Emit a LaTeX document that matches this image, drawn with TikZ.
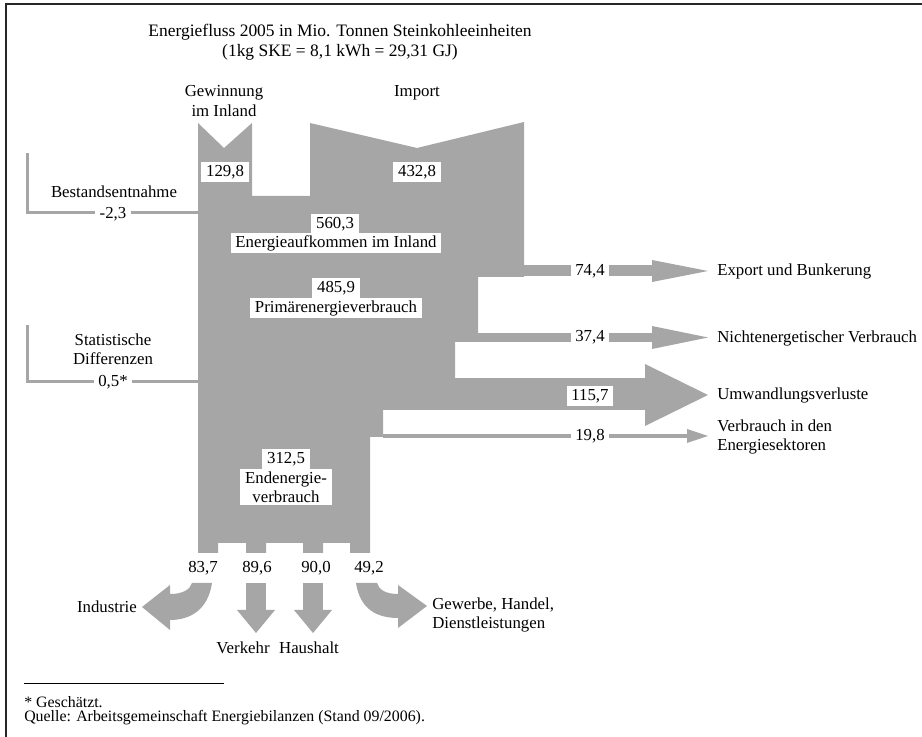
\documentclass[tikz,border=0pt]{standalone}
\usepackage{fontspec}
\setmainfont{Liberation Serif}
\usepackage{xcolor}
\usepackage{tikz}
\usetikzlibrary{positioning, calc}
\definecolor{flowgray}{RGB}{166,166,166}

\begin{document}
\begin{tikzpicture}[
        x=0.75pt, y=-0.75pt,
        flow/.style={fill=flowgray, draw=none},
        txt/.style={font=\fontsize{12.6}{14.5}\selectfont, inner sep=0pt, align=center},
        val/.style={txt, fill=white, inner xsep=3.5pt, inner ysep=2pt},
        feed/.style={draw=flowgray, line width=2.25pt},
        note/.style={font=\fontsize{11.9}{14}\selectfont, inner sep=0pt, anchor=west}
    ]
        \useasboundingbox (0,0) rectangle (922,737);
        % 边框
        \draw[line width=1.2pt, black!85] (6,737) -- (6,4) -- (922,4);

        % 标题
        \node[txt, font=\fontsize{13.1}{15}\selectfont] (title) at (340,42) {Energiefluss 2005 in Mio. Tonnen Steinkohleeinheiten\\(1kg SKE = 8,1 kWh = 29,31 GJ)};

        % 主体
        \fill[flow] (198,123) -- (224,148) -- (252,123) -- (252,196) -- (310,196) -- (310,123)
            -- (417,148) -- (524,122) -- (524,277) -- (478,277) -- (478,342) -- (455,342)
            -- (455,410) -- (383,410) -- (383,437) -- (370,437) -- (370,553) -- (350,553)
            -- (350,543) -- (323,543) -- (323,553) -- (303,553) -- (303,543) -- (266,543)
            -- (266,553) -- (246,553) -- (246,543) -- (218,543) -- (218,553) -- (198,553) -- cycle;

        % 输入
        \node[txt] (domestic) at (224,101) {Gewinnung\\im Inland};
        \node[txt] (import) at (417,93) {Import};
        \node[val] (domesticval) at (225,172) {129,8};
        \node[val] (importval) at (417,172) {432,8};

        \draw[feed] (27,153) -- (27,213) -- (198,213);
        \node[txt] (stock) at (114,192) {Bestandsentnahme};
        \node[val] (stockval) at (113,214) {-2,3};
        \draw[feed] (27,325) -- (27,382) -- (198,382);
        \node[txt] (statdiff) at (113,349) {Statistische\\Differenzen};
        \node[val] (statdiffval) at (113,382) {0,5*};

        % 主体标签
        \node[val] (supplyval) at (335,224) {560,3};
        \node[val] (supply) at (336,243) {Energieaufkommen im Inland};
        \node[val] (primaryval) at (336,288) {485,9};
        \node[val] (primary) at (336,308) {Primärenergieverbrauch};
        \node[val] (finalval) at (286,459) {312,5};
        \node[val] (final) at (286,487) {Endenergie-\\verbrauch};

        % 输出 (右)
        \fill[flow] (524,265) rectangle (652,276);
        \fill[flow] (652,260) -- (708,271) -- (652,282) -- cycle;
        \fill[flow] (478,333) rectangle (652,342);
        \fill[flow] (652,326) -- (708,337.5) -- (652,349) -- cycle;
        \fill[flow] (455,378) rectangle (645,410);
        \fill[flow] (645,364) -- (708,395) -- (645,426) -- cycle;
        \fill[flow] (383,434) rectangle (687,438);
        \fill[flow] (687,429) -- (708,436) -- (687,443) -- cycle;

        \node[val] (exportval) at (590,271) {74,4};
        \node[val] (nonenergyval) at (590,337.5) {37,4};
        \node[val] (conversionval) at (590,396) {115,7};
        \node[val] (sectorsval) at (590,436) {19,8};

        \node[txt, anchor=west] (export) at (717,271) {Export und Bunkerung};
        \node[txt, anchor=west] (nonenergy) at (717,338) {Nichtenergetischer Verbrauch};
        \node[txt, anchor=west] (conversion) at (717,395) {Umwandlungsverluste};
        \node[txt, anchor=west, align=left] (sectors) at (717,437) {Verbrauch in den\\Energiesektoren};

        % 输出 (下)
        \node[txt] (industryval) at (203,568) {83,7};
        \node[txt] (trafficval) at (257,568) {89,6};
        \node[txt] (householdval) at (316,568) {90,0};
        \node[txt] (tradeval) at (369,568) {49,2};

        \fill[flow] (192,583) -- (212,583) .. controls (208,610) and (190,620) .. (170,620)
            -- (170,630) -- (142,607) -- (170,585) -- (170,594)
            .. controls (182,594) and (190,590) .. (192,583) -- cycle;
        \fill[flow] (246,583) rectangle (266,610);
        \fill[flow] (237,610) -- (256,633) -- (275,610) -- cycle;
        \fill[flow] (303,583) rectangle (323,610);
        \fill[flow] (294,610) -- (313,633) -- (332,610) -- cycle;
        \fill[flow] (377,583) -- (356,583) .. controls (360,610) and (378,618) .. (398,618)
            -- (398,628) -- (427,606) -- (398,585) -- (398,594)
            .. controls (386,594) and (379,590) .. (377,583) -- cycle;

        \node[txt, anchor=east] (industry) at (137,607) {Industrie};
        \node[txt] (traffic) at (243,648) {Verkehr};
        \node[txt] (household) at (309,648) {Haushalt};
        \node[txt, anchor=west, align=left] (trade) at (432,615) {Gewerbe, Handel,\\Dienstleistungen};

        % 脚注
        \draw[line width=0.6pt] (24,683) -- (224,683);
        \node[note] (estimate) at (24,702) {* Geschätzt.};
        \node[note] (source) at (24,718) {Quelle: Arbeitsgemeinschaft Energiebilanzen (Stand 09/2006).};
    \end{tikzpicture}
\end{document}
